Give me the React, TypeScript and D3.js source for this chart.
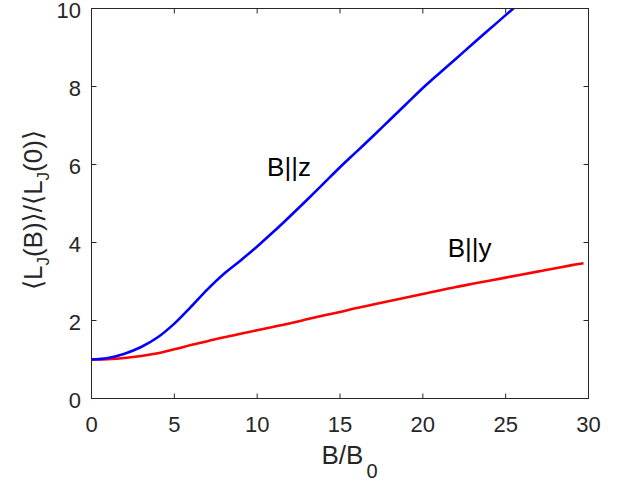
import React from "react";
import * as d3 from "d3";

const xTicks = [0, 5, 10, 15, 20, 25, 30];
const yTicks = [0, 2, 4, 6, 8, 10];

const zX = [0, 1, 2, 3, 4, 5, 6, 7, 8, 9, 10, 11, 12, 13, 14, 15, 16, 17, 18, 19, 20, 21, 22, 23, 24, 25, 25.6];
const zY = [1.0, 1.04, 1.15, 1.32, 1.57, 1.92, 2.35, 2.8, 3.2, 3.54, 3.9, 4.28, 4.68, 5.09, 5.51, 5.93, 6.33, 6.73, 7.14, 7.55, 7.96, 8.34, 8.71, 9.09, 9.46, 9.83, 10.05];

const yX = [0, 1, 2, 3, 4, 5, 6, 7, 8, 9, 10, 11, 12, 13, 14, 15, 16, 17, 18, 19, 20, 21, 22, 23, 24, 25, 26, 27, 28, 29, 29.7];
const yY = [1.0, 1.01, 1.04, 1.09, 1.16, 1.26, 1.37, 1.47, 1.57, 1.66, 1.75, 1.84, 1.93, 2.03, 2.13, 2.22, 2.32, 2.41, 2.5, 2.59, 2.68, 2.77, 2.86, 2.94, 3.02, 3.1, 3.18, 3.26, 3.34, 3.42, 3.47];

const labels = [
  { text: "B||z", x: 10.6, y: 5.7 },
  { text: "B||y", x: 21.5, y: 3.62 },
];

const W = 630, H = 483;
const L = 91.5, R = 588.5, T = 8.5, B = 398.5;
const axisColor = "#262626";
const font = "'Liberation Sans', Arial, Helvetica, sans-serif";

export default function App() {
  const x = d3.scaleLinear().domain([0, 30]).range([L, R]);
  const y = d3.scaleLinear().domain([0, 10]).range([B, T]);
  const line = d3.line<[number, number]>().x(d => x(d[0])).y(d => y(d[1])).curve(d3.curveCatmullRom.alpha(0.5));
  const zData = zX.map((v, i) => [v, zY[i]] as [number, number]);
  const yData = yX.map((v, i) => [v, yY[i]] as [number, number]);
  const tl = 5;
  return (
    <svg width={W} height={H} style={{ position: "absolute", left: 0, top: 0, background: "#fff" }} fontFamily={font}>
      <defs>
        <clipPath id="plotclip">
          <rect x={L} y={T} width={R - L} height={B - T} />
        </clipPath>
      </defs>
      <rect x={0} y={0} width={W} height={H} fill="#fff" />
      <g clipPath="url(#plotclip)">
        <path d={line(yData) || ""} fill="none" stroke="#ff0000" strokeWidth={2.6} strokeLinejoin="round" />
        <path d={line(zData) || ""} fill="none" stroke="#0000ff" strokeWidth={2.6} strokeLinejoin="round" />
      </g>
      <rect x={L} y={T} width={R - L} height={B - T} fill="none" stroke={axisColor} strokeWidth={1} />
      {xTicks.map(t => (
        <g key={"x" + t}>
          <line x1={x(t)} x2={x(t)} y1={B} y2={B - tl} stroke={axisColor} />
          <line x1={x(t)} x2={x(t)} y1={T} y2={T + tl} stroke={axisColor} />
          <text x={x(t)} y={431.5} textAnchor="middle" fontSize={22} fill={axisColor}>{t}</text>
        </g>
      ))}
      {yTicks.map(t => (
        <g key={"y" + t}>
          <line x1={L} x2={L + tl} y1={y(t)} y2={y(t)} stroke={axisColor} />
          <line x1={R} x2={R - tl} y1={y(t)} y2={y(t)} stroke={axisColor} />
          <text x={81} y={y(t)} dy="0.44em" textAnchor="end" fontSize={22} fill={axisColor}>{t}</text>
        </g>
      ))}
      {labels.map(l => (
        <text key={l.text} x={x(l.x)} y={y(l.y)} fontSize={26} fill="#000">{l.text}</text>
      ))}
      <text x={321.5} y={464} fontSize={26} fill={axisColor}>
        B/B<tspan fontSize={20} dx={3} dy={14}>0</tspan>
      </text>
      <text transform="translate(41.5,210) rotate(-90)" textAnchor="middle" fontSize={26} fill={axisColor}>
        <tspan fontFamily="'DejaVu Sans'" fontWeight={200}>⟨</tspan>L<tspan fontSize={17} dy={7}>J</tspan><tspan dy={-7}>(B)</tspan><tspan fontFamily="'DejaVu Sans'">⟩</tspan>/<tspan fontFamily="'DejaVu Sans'">⟨</tspan>L<tspan fontSize={17} dy={7}>J</tspan><tspan dy={-7}>(0)</tspan><tspan fontFamily="'DejaVu Sans'">⟩</tspan>
      </text>
    </svg>
  );
}
